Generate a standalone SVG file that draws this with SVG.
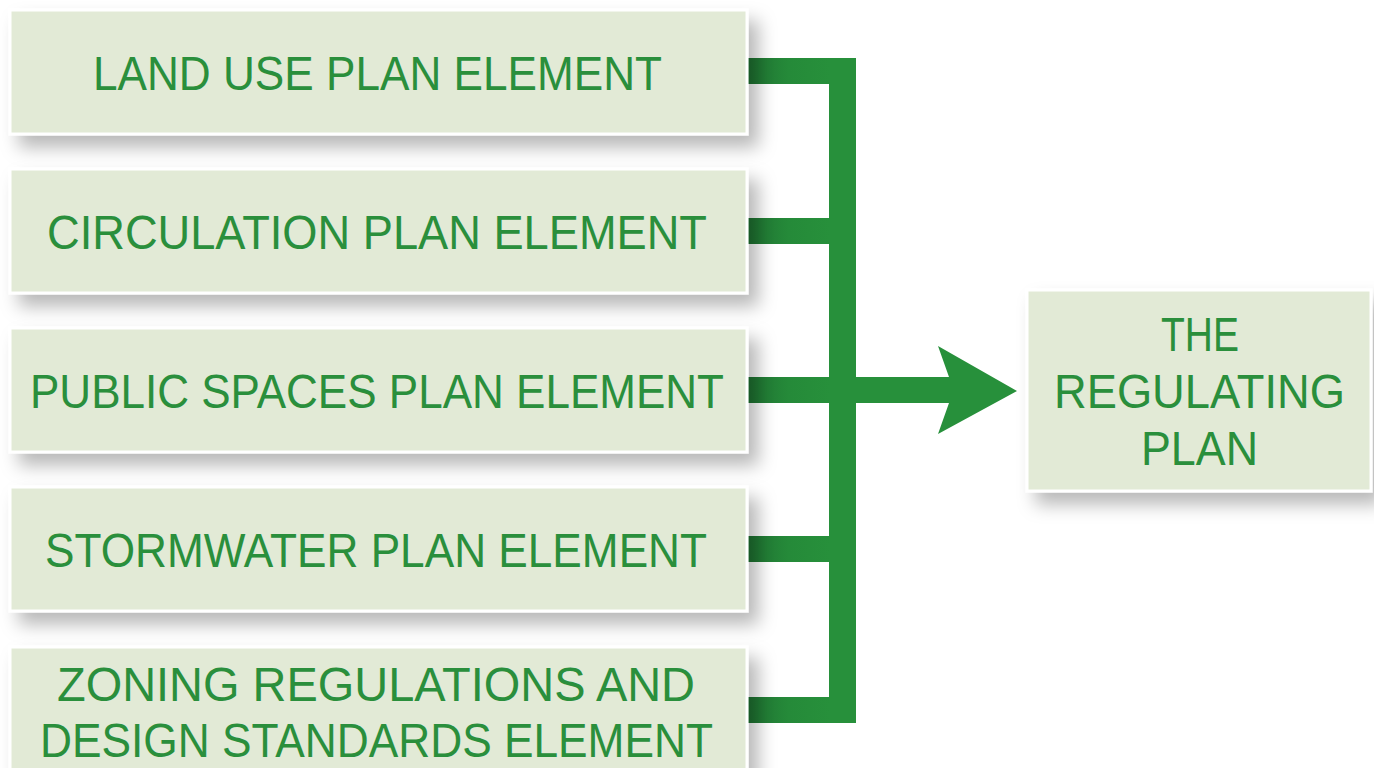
<svg xmlns="http://www.w3.org/2000/svg" width="1374" height="768" viewBox="0 0 1374 768">
  <style>
    .box { fill: #e2ead6; stroke: #ffffff; stroke-width: 3; filter: url(#shadow); }
    .lbl { font-family: "Liberation Sans", "DejaVu Sans", sans-serif; font-size: 49px; fill: #2a8f3c; text-anchor: start; }
    .bar { fill: url(#barShade); }
    .trunk { fill: #27903b; }
  </style>
  <defs>
    <filter id="shadow" x="-10%" y="-20%" width="130%" height="160%">
      <feDropShadow dx="10" dy="12" stdDeviation="9" flood-color="#000" flood-opacity="0.28"/>
    </filter>
    <linearGradient id="barShade" x1="747" y1="0" x2="830" y2="0" gradientUnits="userSpaceOnUse">
      <stop offset="0" stop-color="#1f7432"/>
      <stop offset="0.5" stop-color="#258a39"/>
      <stop offset="1" stop-color="#27903b"/>
    </linearGradient>
  </defs>

  <!-- connectors: feeder bars, collecting trunk, output arrow -->
  <g id="connectors">
    <rect class="trunk" x="829" y="58" width="27" height="665"/>
    <rect class="bar" x="745" y="58" width="100" height="26"/>
    <rect class="bar" x="745" y="218" width="100" height="26"/>
    <rect class="bar" x="745" y="377" width="100" height="26"/>
    <rect class="bar" x="745" y="536" width="100" height="26"/>
    <rect class="bar" x="745" y="697" width="100" height="26"/>
    <polygon class="trunk" points="855,377 949,377 938,346 1017,391 938,434 949,403 855,403"/>
  </g>

  <g id="land-use">
    <rect class="box" x="10" y="10" width="737" height="124"/>
    <text class="lbl" x="93" y="90" textLength="569" lengthAdjust="spacingAndGlyphs">LAND USE PLAN ELEMENT</text>
  </g>
  <g id="circulation">
    <rect class="box" x="10" y="169" width="737" height="124"/>
    <text class="lbl" x="47" y="249" textLength="660" lengthAdjust="spacingAndGlyphs">CIRCULATION PLAN ELEMENT</text>
  </g>
  <g id="public-spaces">
    <rect class="box" x="10" y="328" width="737" height="124"/>
    <text class="lbl" x="30" y="408" textLength="694" lengthAdjust="spacingAndGlyphs">PUBLIC SPACES PLAN ELEMENT</text>
  </g>
  <g id="stormwater">
    <rect class="box" x="10" y="487" width="737" height="124"/>
    <text class="lbl" x="45" y="567" textLength="662" lengthAdjust="spacingAndGlyphs">STORMWATER PLAN ELEMENT</text>
  </g>
  <g id="zoning">
    <rect class="box" x="10" y="647" width="737" height="130"/>
    <text class="lbl" x="57" y="701" textLength="638" lengthAdjust="spacingAndGlyphs">ZONING REGULATIONS AND</text>
    <text class="lbl" x="40" y="757" textLength="673" lengthAdjust="spacingAndGlyphs">DESIGN STANDARDS ELEMENT</text>
  </g>
  <g id="regulating-plan">
    <rect class="box" x="1027" y="290" width="344" height="201"/>
    <text class="lbl" x="1161" y="351" textLength="78" lengthAdjust="spacingAndGlyphs">THE</text>
    <text class="lbl" x="1054" y="408" textLength="291" lengthAdjust="spacingAndGlyphs">REGULATING</text>
    <text class="lbl" x="1141" y="465" textLength="117" lengthAdjust="spacingAndGlyphs">PLAN</text>
  </g>
</svg>
